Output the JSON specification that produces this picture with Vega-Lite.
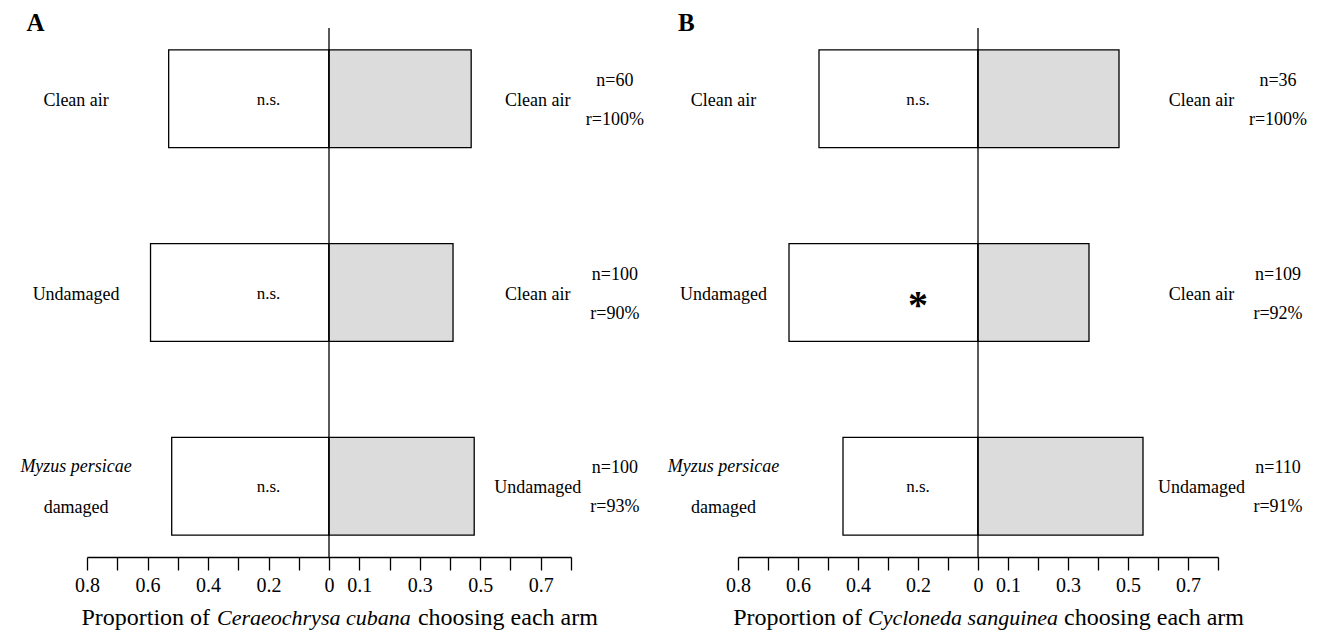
{
  "$schema": "https://vega.github.io/schema/vega-lite/v6.json",
  "padding": {"left": 20, "top": 10, "right": 5, "bottom": 5},
  "background": "white",
  "bounds": "flush",
  "spacing": 167,
  "config": {
    "view": {"stroke": null},
    "font": "Liberation Serif",
    "text": {"font": "Liberation Serif", "color": "#000"},
    "axis": {
      "values": [-0.8, -0.7, -0.6, -0.5, -0.4, -0.3, -0.2, -0.1, 0, 0.1, 0.2, 0.3, 0.4, 0.5, 0.6, 0.7, 0.8],
      "labelExpr": "(datum.value <= 0.001 && round(abs(datum.value)*10) % 2 == 0) || (datum.value > 0.001 && round(datum.value*10) % 2 == 1) ? format(abs(datum.value), '.1~f') : ''",
      "tickSize": 13, "tickColor": "#000", "tickWidth": 1.3,
      "domainColor": "#000", "domainWidth": 1.3,
      "labelFont": "Liberation Serif", "labelFontSize": 20, "labelColor": "#000",
      "labelPadding": 5, "labelOverlap": false, "labelFlush": false, "labelBound": false,
      "grid": false, "title": null
    }
  },
  "datasets": {
    "bars": [
      {"panel": "A", "pair": "1. Clean air vs clean air", "side": "left", "prop": -0.53},
      {"panel": "A", "pair": "1. Clean air vs clean air", "side": "right", "prop": 0.47},
      {"panel": "A", "pair": "2. Undamaged vs clean air", "side": "left", "prop": -0.59},
      {"panel": "A", "pair": "2. Undamaged vs clean air", "side": "right", "prop": 0.41},
      {"panel": "A", "pair": "3. Damaged vs undamaged", "side": "left", "prop": -0.52},
      {"panel": "A", "pair": "3. Damaged vs undamaged", "side": "right", "prop": 0.48},
      {"panel": "B", "pair": "1. Clean air vs clean air", "side": "left", "prop": -0.53},
      {"panel": "B", "pair": "1. Clean air vs clean air", "side": "right", "prop": 0.47},
      {"panel": "B", "pair": "2. Undamaged vs clean air", "side": "left", "prop": -0.63},
      {"panel": "B", "pair": "2. Undamaged vs clean air", "side": "right", "prop": 0.37},
      {"panel": "B", "pair": "3. Damaged vs undamaged", "side": "left", "prop": -0.45},
      {"panel": "B", "pair": "3. Damaged vs undamaged", "side": "right", "prop": 0.55}
    ],
    "rows": [
      {"panel": "A", "pair": "1. Clean air vs clean air", "leftSingle": "Clean air", "leftTop": "", "leftBottom": "", "rightLabel": "Clean air", "nText": "n=60", "rText": "r=100%", "sig": "n.s."},
      {"panel": "A", "pair": "2. Undamaged vs clean air", "leftSingle": "Undamaged", "leftTop": "", "leftBottom": "", "rightLabel": "Clean air", "nText": "n=100", "rText": "r=90%", "sig": "n.s."},
      {"panel": "A", "pair": "3. Damaged vs undamaged", "leftSingle": "", "leftTop": "Myzus persicae", "leftBottom": "damaged", "rightLabel": "Undamaged", "nText": "n=100", "rText": "r=93%", "sig": "n.s."},
      {"panel": "B", "pair": "1. Clean air vs clean air", "leftSingle": "Clean air", "leftTop": "", "leftBottom": "", "rightLabel": "Clean air", "nText": "n=36", "rText": "r=100%", "sig": "n.s."},
      {"panel": "B", "pair": "2. Undamaged vs clean air", "leftSingle": "Undamaged", "leftTop": "", "leftBottom": "", "rightLabel": "Clean air", "nText": "n=109", "rText": "r=92%", "sig": "*"},
      {"panel": "B", "pair": "3. Damaged vs undamaged", "leftSingle": "", "leftTop": "Myzus persicae", "leftBottom": "damaged", "rightLabel": "Undamaged", "nText": "n=110", "rText": "r=91%", "sig": "n.s."}
    ]
  },
  "hconcat": [
    {
      "width": 484,
      "height": 529,
      "layer": [
        {
          "data": {"name": "bars"},
          "transform": [{"filter": "datum.panel === 'A'"}],
          "mark": {"type": "bar", "stroke": "#000", "strokeWidth": 1.3},
          "encoding": {
            "x": {"field": "prop", "type": "quantitative", "stack": null, "scale": {"domain": [-0.8, 0.8], "nice": false}},
            "x2": {"datum": 0},
            "y": {"field": "pair", "type": "nominal", "axis": null, "scale": {"paddingInner": 0.495, "paddingOuter": 0.113}},
            "fill": {"field": "side", "type": "nominal", "scale": {"domain": ["left", "right"], "range": ["#ffffff", "#dcdcdc"]}, "legend": null}
          }
        },
        {
          "data": {"values": [{}]},
          "mark": {"type": "rule", "color": "#000", "strokeWidth": 1.3},
          "encoding": {"x": {"datum": 0, "type": "quantitative"}}
        },
        {
          "data": {"name": "rows"},
          "transform": [{"filter": "datum.panel === 'A'"}],
          "mark": {"type": "text", "fontSize": 18, "align": "center", "baseline": "middle", "dy": 2},
          "encoding": {"x": {"datum": -0.836, "type": "quantitative"}, "y": {"field": "pair", "type": "nominal"}, "text": {"field": "leftSingle"}}
        },
        {
          "data": {"name": "rows"},
          "transform": [{"filter": "datum.panel === 'A'"}],
          "mark": {"type": "text", "fontSize": 18, "fontStyle": "italic", "align": "center", "baseline": "middle", "dy": -19},
          "encoding": {"x": {"datum": -0.836, "type": "quantitative"}, "y": {"field": "pair", "type": "nominal"}, "text": {"field": "leftTop"}}
        },
        {
          "data": {"name": "rows"},
          "transform": [{"filter": "datum.panel === 'A'"}],
          "mark": {"type": "text", "fontSize": 18, "align": "center", "baseline": "middle", "dy": 22},
          "encoding": {"x": {"datum": -0.836, "type": "quantitative"}, "y": {"field": "pair", "type": "nominal"}, "text": {"field": "leftBottom"}}
        },
        {
          "data": {"name": "rows"},
          "transform": [{"filter": "datum.panel === 'A'"}],
          "mark": {"type": "text", "fontSize": 18, "align": "center", "baseline": "middle", "dy": 2},
          "encoding": {"x": {"datum": 0.69, "type": "quantitative"}, "y": {"field": "pair", "type": "nominal"}, "text": {"field": "rightLabel"}}
        },
        {
          "data": {"name": "rows"},
          "transform": [{"filter": "datum.panel === 'A'"}],
          "mark": {"type": "text", "fontSize": 18, "align": "center", "baseline": "middle", "dy": -18},
          "encoding": {"x": {"datum": 0.945, "type": "quantitative"}, "y": {"field": "pair", "type": "nominal"}, "text": {"field": "nText"}}
        },
        {
          "data": {"name": "rows"},
          "transform": [{"filter": "datum.panel === 'A'"}],
          "mark": {"type": "text", "fontSize": 18, "align": "center", "baseline": "middle", "dy": 21},
          "encoding": {"x": {"datum": 0.945, "type": "quantitative"}, "y": {"field": "pair", "type": "nominal"}, "text": {"field": "rText"}}
        },
        {
          "data": {"name": "rows"},
          "transform": [{"filter": "datum.panel === 'A' && datum.sig === 'n.s.'"}],
          "mark": {"type": "text", "fontSize": 17, "align": "center", "baseline": "middle", "dy": 1},
          "encoding": {"x": {"datum": -0.2, "type": "quantitative"}, "y": {"field": "pair", "type": "nominal"}, "text": {"field": "sig"}}
        },
        {
          "data": {"values": [{}]},
          "mark": {"type": "text", "fontSize": 25, "fontWeight": "bold", "align": "left", "baseline": "alphabetic", "dy": -68},
          "encoding": {"x": {"datum": -1.0, "type": "quantitative"}, "y": {"datum": "1. Clean air vs clean air", "type": "nominal"}, "text": {"value": "A"}}
        },
        {
          "data": {"values": [{}]},
          "mark": {"type": "text", "fontSize": 24, "align": "right", "baseline": "alphabetic", "dy": 139},
          "encoding": {"x": {"datum": -0.393, "type": "quantitative"}, "y": {"datum": "3. Damaged vs undamaged", "type": "nominal"}, "text": {"value": "Proportion of"}}
        },
        {
          "data": {"values": [{}]},
          "mark": {"type": "text", "fontSize": 22, "fontStyle": "italic", "align": "center", "baseline": "alphabetic", "dy": 139},
          "encoding": {"x": {"datum": -0.05, "type": "quantitative"}, "y": {"datum": "3. Damaged vs undamaged", "type": "nominal"}, "text": {"value": "Ceraeochrysa cubana"}}
        },
        {
          "data": {"values": [{}]},
          "mark": {"type": "text", "fontSize": 24, "align": "left", "baseline": "alphabetic", "dy": 139},
          "encoding": {"x": {"datum": 0.294, "type": "quantitative"}, "y": {"datum": "3. Damaged vs undamaged", "type": "nominal"}, "text": {"value": "choosing each arm"}}
        }
      ]
    },
    {
      "width": 480,
      "height": 529,
      "layer": [
        {
          "data": {"name": "bars"},
          "transform": [{"filter": "datum.panel === 'B'"}],
          "mark": {"type": "bar", "stroke": "#000", "strokeWidth": 1.3},
          "encoding": {
            "x": {"field": "prop", "type": "quantitative", "stack": null, "scale": {"domain": [-0.8, 0.8], "nice": false}},
            "x2": {"datum": 0},
            "y": {"field": "pair", "type": "nominal", "axis": null, "scale": {"paddingInner": 0.495, "paddingOuter": 0.113}},
            "fill": {"field": "side", "type": "nominal", "scale": {"domain": ["left", "right"], "range": ["#ffffff", "#dcdcdc"]}, "legend": null}
          }
        },
        {
          "data": {"values": [{}]},
          "mark": {"type": "rule", "color": "#000", "strokeWidth": 1.3},
          "encoding": {"x": {"datum": 0, "type": "quantitative"}}
        },
        {
          "data": {"name": "rows"},
          "transform": [{"filter": "datum.panel === 'B'"}],
          "mark": {"type": "text", "fontSize": 18, "align": "center", "baseline": "middle", "dy": 2},
          "encoding": {"x": {"datum": -0.848, "type": "quantitative"}, "y": {"field": "pair", "type": "nominal"}, "text": {"field": "leftSingle"}}
        },
        {
          "data": {"name": "rows"},
          "transform": [{"filter": "datum.panel === 'B'"}],
          "mark": {"type": "text", "fontSize": 18, "fontStyle": "italic", "align": "center", "baseline": "middle", "dy": -19},
          "encoding": {"x": {"datum": -0.848, "type": "quantitative"}, "y": {"field": "pair", "type": "nominal"}, "text": {"field": "leftTop"}}
        },
        {
          "data": {"name": "rows"},
          "transform": [{"filter": "datum.panel === 'B'"}],
          "mark": {"type": "text", "fontSize": 18, "align": "center", "baseline": "middle", "dy": 22},
          "encoding": {"x": {"datum": -0.848, "type": "quantitative"}, "y": {"field": "pair", "type": "nominal"}, "text": {"field": "leftBottom"}}
        },
        {
          "data": {"name": "rows"},
          "transform": [{"filter": "datum.panel === 'B'"}],
          "mark": {"type": "text", "fontSize": 18, "align": "center", "baseline": "middle", "dy": 2},
          "encoding": {"x": {"datum": 0.745, "type": "quantitative"}, "y": {"field": "pair", "type": "nominal"}, "text": {"field": "rightLabel"}}
        },
        {
          "data": {"name": "rows"},
          "transform": [{"filter": "datum.panel === 'B'"}],
          "mark": {"type": "text", "fontSize": 18, "align": "center", "baseline": "middle", "dy": -18},
          "encoding": {"x": {"datum": 1.0, "type": "quantitative"}, "y": {"field": "pair", "type": "nominal"}, "text": {"field": "nText"}}
        },
        {
          "data": {"name": "rows"},
          "transform": [{"filter": "datum.panel === 'B'"}],
          "mark": {"type": "text", "fontSize": 18, "align": "center", "baseline": "middle", "dy": 21},
          "encoding": {"x": {"datum": 1.0, "type": "quantitative"}, "y": {"field": "pair", "type": "nominal"}, "text": {"field": "rText"}}
        },
        {
          "data": {"name": "rows"},
          "transform": [{"filter": "datum.panel === 'B' && datum.sig === 'n.s.'"}],
          "mark": {"type": "text", "fontSize": 17, "align": "center", "baseline": "middle", "dy": 1},
          "encoding": {"x": {"datum": -0.2, "type": "quantitative"}, "y": {"field": "pair", "type": "nominal"}, "text": {"field": "sig"}}
        },
        {
          "data": {"name": "rows"},
          "transform": [{"filter": "datum.panel === 'B' && datum.sig === '*'"}],
          "mark": {"type": "text", "fontSize": 40, "fontWeight": "bold", "align": "center", "baseline": "middle", "dy": 13},
          "encoding": {"x": {"datum": -0.2, "type": "quantitative"}, "y": {"field": "pair", "type": "nominal"}, "text": {"field": "sig"}}
        },
        {
          "data": {"values": [{}]},
          "mark": {"type": "text", "fontSize": 25, "fontWeight": "bold", "align": "left", "baseline": "alphabetic", "dy": -68},
          "encoding": {"x": {"datum": -1.0, "type": "quantitative"}, "y": {"datum": "1. Clean air vs clean air", "type": "nominal"}, "text": {"value": "B"}}
        },
        {
          "data": {"values": [{}]},
          "mark": {"type": "text", "fontSize": 24, "align": "right", "baseline": "alphabetic", "dy": 139},
          "encoding": {"x": {"datum": -0.387, "type": "quantitative"}, "y": {"datum": "3. Damaged vs undamaged", "type": "nominal"}, "text": {"value": "Proportion of"}}
        },
        {
          "data": {"values": [{}]},
          "mark": {"type": "text", "fontSize": 22, "fontStyle": "italic", "align": "center", "baseline": "alphabetic", "dy": 139},
          "encoding": {"x": {"datum": -0.05, "type": "quantitative"}, "y": {"datum": "3. Damaged vs undamaged", "type": "nominal"}, "text": {"value": "Cycloneda sanguinea"}}
        },
        {
          "data": {"values": [{}]},
          "mark": {"type": "text", "fontSize": 24, "align": "left", "baseline": "alphabetic", "dy": 139},
          "encoding": {"x": {"datum": 0.287, "type": "quantitative"}, "y": {"datum": "3. Damaged vs undamaged", "type": "nominal"}, "text": {"value": "choosing each arm"}}
        }
      ]
    }
  ]
}
